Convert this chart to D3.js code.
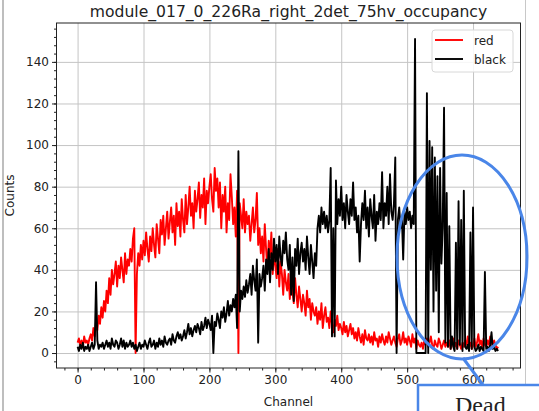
<!DOCTYPE html>
<html>
<head>
<meta charset="utf-8">
<script src="https://cdn.jsdelivr.net/npm/d3@7"></script>
<style>
  body { margin: 0; background: #fff; }
  text { font-family: "DejaVu Sans", sans-serif; fill: #222; }
</style>
</head>
<body>
<script>
const title = "module_017_0_226Ra_right_2det_75hv_occupancy";

// counts, one value every 2 channels (0, 2, 4 ... 638)
const redCounts = [
  5,7,4,6,3,8,5,6,4,7,
  9,6,12,8,15,11,18,14,22,17,
  25,20,30,24,36,28,40,33,38,44,
  32,42,36,46,40,34,48,38,45,42,
  50,44,55,60,0,38,48,42,52,45,
  54,47,58,50,44,56,49,60,52,46,
  62,55,48,64,57,66,52,60,68,55,
  63,70,58,66,52,72,61,68,56,74,
  64,58,76,62,70,80,66,72,60,78,
  68,74,82,65,76,70,84,62,78,72,
  80,86,74,68,89,78,84,70,82,60,
  76,68,80,58,72,64,86,75,62,70,
  56,78,0,72,66,60,74,58,68,62,
  66,54,62,70,58,64,77,52,60,48,
  56,44,62,50,40,54,46,58,38,48,
  42,36,50,32,44,38,28,40,34,30,
  38,26,34,30,24,36,28,22,32,26,
  20,28,24,18,30,22,26,16,24,20,
  18,22,14,20,16,24,12,18,22,15,
  17,12,20,14,10,16,13,18,11,14,
  12,9,15,10,13,8,11,14,9,12,
  7,10,6,12,8,5,9,4,11,7,
  6,9,5,8,4,10,6,7,3,8,
  5,9,6,4,8,5,10,7,4,6,
  8,5,3,7,9,4,6,10,5,7,
  4,8,6,3,9,5,7,2,6,4,
  3,5,2,6,4,7,3,5,8,4,
  2,6,4,3,7,5,2,4,6,3,
  5,3,6,2,4,7,3,5,2,6,
  4,2,5,3,6,4,8,3,5,2,
  4,7,3,5,9,4,6,3,7,4,
  3,6,4,8,5,3,6,4,2,3
];
const blackCounts = [
  3,1,4,2,5,1,3,2,4,1,
  3,5,2,4,34,6,2,4,3,5,
  2,4,6,3,5,2,7,4,3,6,
  5,2,4,7,3,6,2,5,3,4,
  6,3,5,2,4,1,3,5,2,4,
  3,6,4,2,5,7,3,4,6,2,
  5,3,7,4,6,3,8,5,4,6,
  7,4,9,6,5,8,10,7,9,6,
  8,11,7,10,14,9,12,8,11,13,
  10,14,12,9,15,11,13,17,12,16,
  14,11,18,0,15,13,19,16,12,20,
  17,22,15,19,25,18,23,20,26,22,
  28,12,97,20,30,26,32,27,35,29,
  33,38,28,42,35,30,45,5,38,32,
  36,42,30,45,38,50,34,48,40,55,
  44,52,38,56,46,42,54,48,58,45,
  40,52,28,46,25,50,42,55,38,48,
  53,44,50,40,56,46,38,52,44,36,
  48,42,60,66,58,70,62,68,60,66,
  58,64,89,8,60,8,83,62,74,66,
  80,64,72,60,76,68,62,74,66,82,
  64,70,58,66,44,62,72,64,78,60,
  70,56,74,66,60,76,54,68,62,72,
  64,87,60,72,66,80,62,86,68,64,
  72,94,0,64,70,60,66,45,68,62,
  70,64,68,60,66,62,151,0,0,0,
  0,0,0,0,0,125,0,102,40,99,
  20,94,30,85,10,89,43,61,118,5,
  77,3,61,2,8,3,1,53,2,73,
  4,64,1,78,3,2,4,1,58,2,
  70,3,1,2,4,1,3,2,1,39,
  2,3,1,4,10,2,3,1,2,1
];
const channelStep = 2;
const xTicks = [0, 100, 200, 300, 400, 500, 600];
const yTicks = [0, 20, 40, 60, 80, 100, 120, 140];
const legendItems = [{name: "red", color: "#ff0000"}, {name: "black", color: "#000000"}];

const width = 539, height = 411;
const plot = {left: 56.5, right: 520.5, top: 23, bottom: 368};

const svg = d3.select("body").append("svg")
    .attr("width", width)
    .attr("height", height);

svg.append("rect").attr("width", width).attr("height", height).attr("fill", "#fff");

// slide edges
svg.append("line").attr("x1", 3).attr("x2", 3).attr("y1", 0).attr("y2", height)
    .attr("stroke", "#a8a8a8").attr("stroke-width", 1.5);
svg.append("line").attr("x1", 525.5).attr("x2", 525.5).attr("y1", 0).attr("y2", height)
    .attr("stroke", "#c8c8c8").attr("stroke-width", 1);

const x = d3.scaleLinear().domain([-32, 672]).range([plot.left, plot.right]);
const y = d3.scaleLinear().domain([-7.2, 158.7]).range([plot.bottom, plot.top]);

// grid
svg.append("g")
    .attr("transform", `translate(0,${plot.bottom})`)
    .call(d3.axisBottom(x).tickValues(xTicks).tickSize(-(plot.bottom - plot.top)).tickFormat(""))
    .call(g => g.select(".domain").remove())
    .selectAll("line").attr("stroke", "#c4c4c4").attr("stroke-width", 1);
svg.append("g")
    .attr("transform", `translate(${plot.left},0)`)
    .call(d3.axisLeft(y).tickValues(yTicks).tickSize(-(plot.right - plot.left)).tickFormat(""))
    .call(g => g.select(".domain").remove())
    .selectAll("line").attr("stroke", "#c4c4c4").attr("stroke-width", 1);

svg.append("clipPath").attr("id", "clip").append("rect")
    .attr("x", plot.left).attr("y", plot.top)
    .attr("width", plot.right - plot.left).attr("height", plot.bottom - plot.top);

const line = d3.line()
    .x((d, i) => x(i * channelStep))
    .y(d => y(d));

const series = svg.append("g").attr("clip-path", "url(#clip)");
series.append("path").datum(redCounts)
    .attr("d", line).attr("fill", "none")
    .attr("stroke", "#ff0000").attr("stroke-width", 1.9).attr("stroke-linejoin", "round");
series.append("path").datum(blackCounts)
    .attr("d", line).attr("fill", "none")
    .attr("stroke", "#000").attr("stroke-width", 1.9).attr("stroke-linejoin", "round");

// frame
svg.append("rect")
    .attr("x", plot.left).attr("y", plot.top)
    .attr("width", plot.right - plot.left).attr("height", plot.bottom - plot.top)
    .attr("fill", "none").attr("stroke", "#222").attr("stroke-width", 1);

// axes with minor ticks
const xAxis = svg.append("g").attr("transform", `translate(0,${plot.bottom})`);
xAxis.call(d3.axisBottom(x).tickValues(d3.range(-20, 672, 20)).tickSize(2.5).tickFormat(""))
    .call(g => g.select(".domain").remove());
xAxis.append("g").call(d3.axisBottom(x).tickValues(xTicks).tickSize(4.5).tickPadding(3))
    .call(g => g.select(".domain").remove())
    .call(g => g.selectAll("text").attr("font-size", 12).attr("fill", "#222"));
xAxis.selectAll("line").attr("stroke", "#222");

const yAxis = svg.append("g").attr("transform", `translate(${plot.left},0)`);
yAxis.call(d3.axisLeft(y).tickValues(d3.range(-4, 158, 4)).tickSize(2.5).tickFormat(""))
    .call(g => g.select(".domain").remove());
yAxis.append("g").call(d3.axisLeft(y).tickValues(yTicks).tickSize(4.5).tickPadding(3))
    .call(g => g.select(".domain").remove())
    .call(g => g.selectAll("text").attr("font-size", 12).attr("fill", "#222"));
yAxis.selectAll("line").attr("stroke", "#222");

svg.selectAll(".tick text").attr("font-family", "DejaVu Sans");

// labels
svg.append("text").attr("x", (plot.left + plot.right) / 2).attr("y", 17)
    .attr("text-anchor", "middle").attr("font-size", 15.6).text(title);
svg.append("text").attr("x", (plot.left + plot.right) / 2).attr("y", 406)
    .attr("text-anchor", "middle").attr("font-size", 12).text("Channel");
svg.append("text").attr("transform", `translate(14,${(plot.top + plot.bottom) / 2}) rotate(-90)`)
    .attr("text-anchor", "middle").attr("font-size", 12).text("Counts");

// legend
const legend = svg.append("g").attr("transform", "translate(432,30)");
legend.append("rect").attr("width", 81).attr("height", 42).attr("rx", 3)
    .attr("fill", "#fff").attr("fill-opacity", 0.85).attr("stroke", "#d8d8d8");
legendItems.forEach((d, i) => {
  const ly = 10 + i * 19;
  legend.append("line").attr("x1", 3).attr("x2", 31).attr("y1", ly).attr("y2", ly)
      .attr("stroke", d.color).attr("stroke-width", 1.9);
  legend.append("text").attr("x", 42).attr("y", ly + 4.5).attr("font-size", 12).text(d.name);
});

// annotation
const blue = "#4a86e8";
svg.append("ellipse").attr("cx", 462).attr("cy", 257).attr("rx", 65).attr("ry", 102)
    .attr("fill", "none").attr("stroke", blue).attr("stroke-width", 3);
svg.append("line").attr("x1", 463).attr("y1", 358).attr("x2", 483).attr("y2", 385)
    .attr("stroke", blue).attr("stroke-width", 3);
svg.append("rect").attr("x", 418).attr("y", 385).attr("width", 140).attr("height", 40)
    .attr("fill", "#fff").attr("stroke", blue).attr("stroke-width", 2.5);
svg.append("text").attr("x", 455).attr("y", 413)
    .style("font-family", "Liberation Serif, serif").attr("font-size", 24)
    .attr("fill", "#111").text("Dead");
</script>
</body>
</html>
